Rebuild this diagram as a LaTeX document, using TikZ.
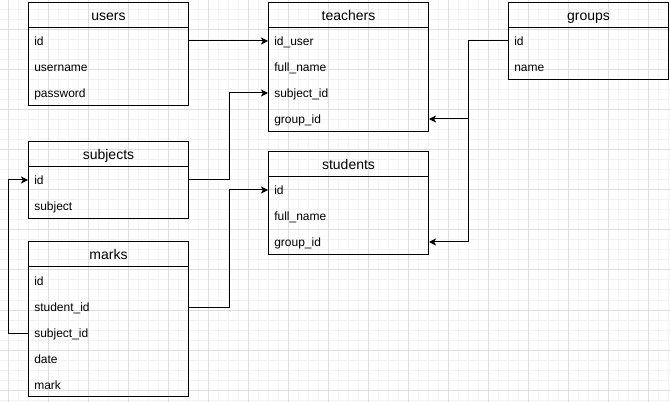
\documentclass[tikz,border=0pt]{standalone}
\usepackage{fontspec}
\setmainfont{Liberation Sans}
\usetikzlibrary{arrows.meta}

\begin{document}
\begin{tikzpicture}[x=0.75pt, y=-0.75pt,
  minorgrid/.style={black!5, line width=0.75pt},
  majorgrid/.style={black!13, line width=0.75pt},
  tablehead/.style={draw, line width=0.75pt, anchor=north west, inner sep=0pt,
    minimum width=120pt, minimum height=18.75pt, text height=10pt, text depth=1.8pt,
    font=\fontsize{10.5}{12}\selectfont},
  tablebody/.style={draw, line width=0.75pt, anchor=north west, inner sep=0pt,
    minimum width=120pt},
  field/.style={anchor=west, inner sep=0pt, text height=8.25pt, text depth=1.5pt,
    font=\fontsize{9}{11}\selectfont},
  link/.style={line width=0.75pt, -{Stealth[length=5.3pt, width=5.3pt, inset=1.4pt]}}]
  \useasboundingbox (0,0) rectangle (670,402);
  \foreach \gx in {8,18,...,668} \draw[minorgrid] (\gx,0) -- (\gx,402);
  \foreach \gy in {0,10,...,400} \draw[minorgrid] (0,\gy) -- (670,\gy);
  \foreach \gx in {8,48,...,648} \draw[majorgrid] (\gx,0) -- (\gx,402);
  \foreach \gy in {30,70,...,390} \draw[majorgrid] (0,\gy) -- (670,\gy);

  \node[tablehead] (users-head) at (28,2) {users};
  \node[tablebody, minimum height=58.5pt] (users) at (28,27) {};
  \node[field] (users-id) at (34,41) {id};
  \node[field] (users-username) at (34,67) {username};
  \node[field] (users-password) at (34,93) {password};

  \node[tablehead] (teachers-head) at (268,2) {teachers};
  \node[tablebody, minimum height=78pt] (teachers) at (268,27) {};
  \node[field] (teachers-iduser) at (274,41) {id\_user};
  \node[field] (teachers-fullname) at (274,67) {full\_name};
  \node[field] (teachers-subjectid) at (274,93) {subject\_id};
  \node[field] (teachers-groupid) at (274,119) {group\_id};

  \node[tablehead] (groups-head) at (508,2) {groups};
  \node[tablebody, minimum height=39pt] (groups) at (508,27) {};
  \node[field] (groups-id) at (514,41) {id};
  \node[field] (groups-name) at (514,67) {name};

  \node[tablehead] (subjects-head) at (28,141) {subjects};
  \node[tablebody, minimum height=39pt] (subjects) at (28,166) {};
  \node[field] (subjects-id) at (34,180) {id};
  \node[field] (subjects-subject) at (34,206) {subject};

  \node[tablehead] (students-head) at (268,151) {students};
  \node[tablebody, minimum height=58.5pt] (students) at (268,176) {};
  \node[field] (students-id) at (274,190) {id};
  \node[field] (students-fullname) at (274,216) {full\_name};
  \node[field] (students-groupid) at (274,242) {group\_id};

  \node[tablehead] (marks-head) at (28,241) {marks};
  \node[tablebody, minimum height=97.5pt] (marks) at (28,266) {};
  \node[field] (marks-id) at (34,281) {id};
  \node[field] (marks-studentid) at (34,307) {student\_id};
  \node[field] (marks-subjectid) at (34,333) {subject\_id};
  \node[field] (marks-date) at (34,359) {date};
  \node[field] (marks-mark) at (34,385) {mark};

  \draw[link] (users.east |- users-id) -- (teachers.west |- teachers-iduser);
  \draw[link] (subjects.east |- subjects-id) -- ++(40,0) |- (teachers.west |- teachers-subjectid);
  \draw[link] (groups.west |- groups-id) -- ++(-40,0) |- (teachers.east |- teachers-groupid);
  \draw[link] (groups.west |- groups-id) -- ++(-40,0) |- (students.east |- students-groupid);
  \draw[link] (marks.east |- marks-studentid) -- ++(40,0) |- (students.west |- students-id);
  \draw[link] (marks.west |- marks-subjectid) -- ++(-20,0) |- (subjects.west |- subjects-id);
\end{tikzpicture}
\end{document}
